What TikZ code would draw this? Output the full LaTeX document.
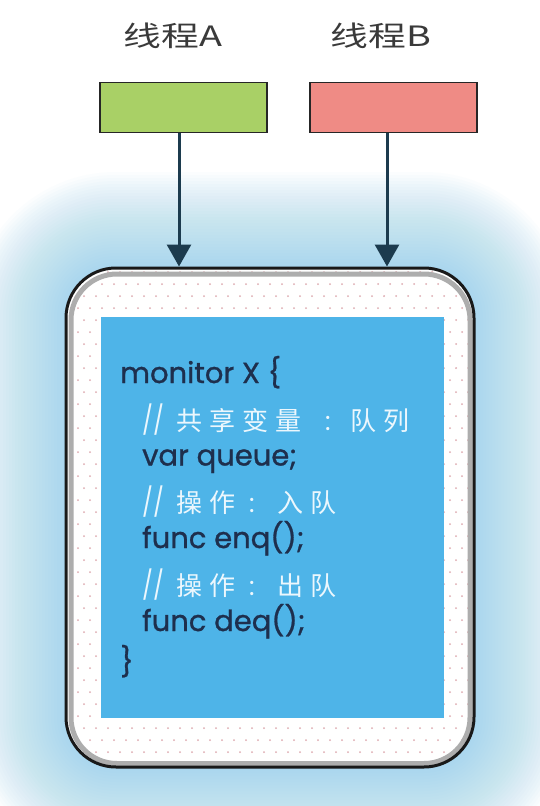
\documentclass[tikz,border=0pt]{standalone}
\usepackage{graphicx}
\usepackage{fontspec}
\setmainfont{Poppins}
\newfontfamily\cjk{Noto Sans CJK SC}
\newfontfamily\codefont[FakeBold=1.0]{Poppins}
\newfontfamily\slashfont{Poppins}
\usetikzlibrary{arrows.meta}
\definecolor{glowc}{HTML}{8CCFEE}
\definecolor{codeblue}{HTML}{4EB4E8}
\definecolor{codeink}{HTML}{1E2F4D}
\definecolor{cmtink}{HTML}{ECF7FD}
\definecolor{arrowc}{HTML}{1C3B4E}
\definecolor{greenc}{HTML}{A9D066}
\definecolor{redc}{HTML}{EF8B85}
\definecolor{dotc}{HTML}{DDAAB0}
\definecolor{labelc}{HTML}{3A3A3A}
\newcommand{\gap}{\kern7pt}
\newcommand{\slashes}{{\slashfont\fontsize{27}{31}\selectfont\scalebox{0.85}[1.05]{//}}}
\newcommand{\colonmark}{{\slashfont\fontsize{26}{30}\selectfont :}}
\tikzset{
  threadbox/.style={draw=black!85, line width=1.5pt, minimum width=167pt, minimum height=50pt, inner sep=0pt},
  threadlabel/.style={font=\cjk\fontsize{28}{32}\selectfont, text=labelc, inner sep=0pt},
  arr/.style={draw=arrowc, line width=3pt, -{Triangle[width=24pt,length=22pt]}},
  codeline/.style={anchor=base west, inner sep=0pt, font=\codefont\fontsize{29}{33}\selectfont, text=codeink},
  cmtline/.style={anchor=base west, inner sep=0pt, font=\cjk\fontsize{26}{30}\selectfont, text=cmtink},
}
\begin{document}
\begin{tikzpicture}[x=1pt,y=-1pt]
\useasboundingbox (0,0) rectangle (540,806);
\fill[white] (0,0) rectangle (540,806);
% glow
\foreach \e in {0,3,...,96}{
  \fill[glowc, opacity=0.03, rounded corners={50+\e}] ({66-\e},{268-\e}) rectangle ({474+\e},{767+\e});
}
% monitor outer box
\fill[white, rounded corners=50] (66,268) rectangle (474,767);
\begin{scope}
  \clip[rounded corners=50] (66,268) rectangle (474,767);
  \foreach \j in {0,...,41}{
    \foreach \i in {0,...,34}{
      \fill[dotc] ({72+\i*12+mod(\j,2)*6},{272+\j*12}) circle (1.0);
    }
  }
\end{scope}
\draw[black!32, line width=5pt, rounded corners=46] (71,274) rectangle (470,763.5);
\node[draw=black!90, line width=3pt, rounded corners=50, minimum width=408pt, minimum height=499pt, inner sep=0pt] (monitor) at (270,517.5) {};
% code panel
\node[fill=codeblue, minimum width=343pt, minimum height=401pt, inner sep=0pt] (code) at (272.5,517.5) {};
\node[codeline] (l1) at (120,383) {monitor X \{};
\node[cmtline] (l2) at (142,430) {\slashes\kern12pt 共\gap 享\gap 变\gap 量\kern24pt\colonmark\kern20pt 队\gap 列};
\node[codeline] (l3) at (142,465.5) {var queue;};
\node[cmtline] (l4) at (142,512) {\slashes\kern12pt 操\gap 作\kern14pt\colonmark\kern23pt 入\gap 队};
\node[codeline] (l5) at (142,548) {func enq();};
\node[cmtline] (l6) at (142,595) {\slashes\kern12pt 操\gap 作\kern14pt\colonmark\kern23pt 出\gap 队};
\node[codeline] (l7) at (142,631) {func deq();};
\node[codeline] (l8) at (120,672) {\}};
% threads
\node[threadlabel] (la) at (173,36) {\scalebox{1.35}[1]{线程A}};
\node[threadlabel] (lb) at (381,36) {\scalebox{1.35}[1]{线程B}};
\node[threadbox, fill=greenc] (ta) at (183.5,107.5) {};
\node[threadbox, fill=redc] (tb) at (393.5,107.5) {};
\draw[arr] (ta.south -| 179,0) -- (179,0 |- monitor.north);
\draw[arr] (tb.south -| 387,0) -- (387,0 |- monitor.north);
\end{tikzpicture}
\end{document}
